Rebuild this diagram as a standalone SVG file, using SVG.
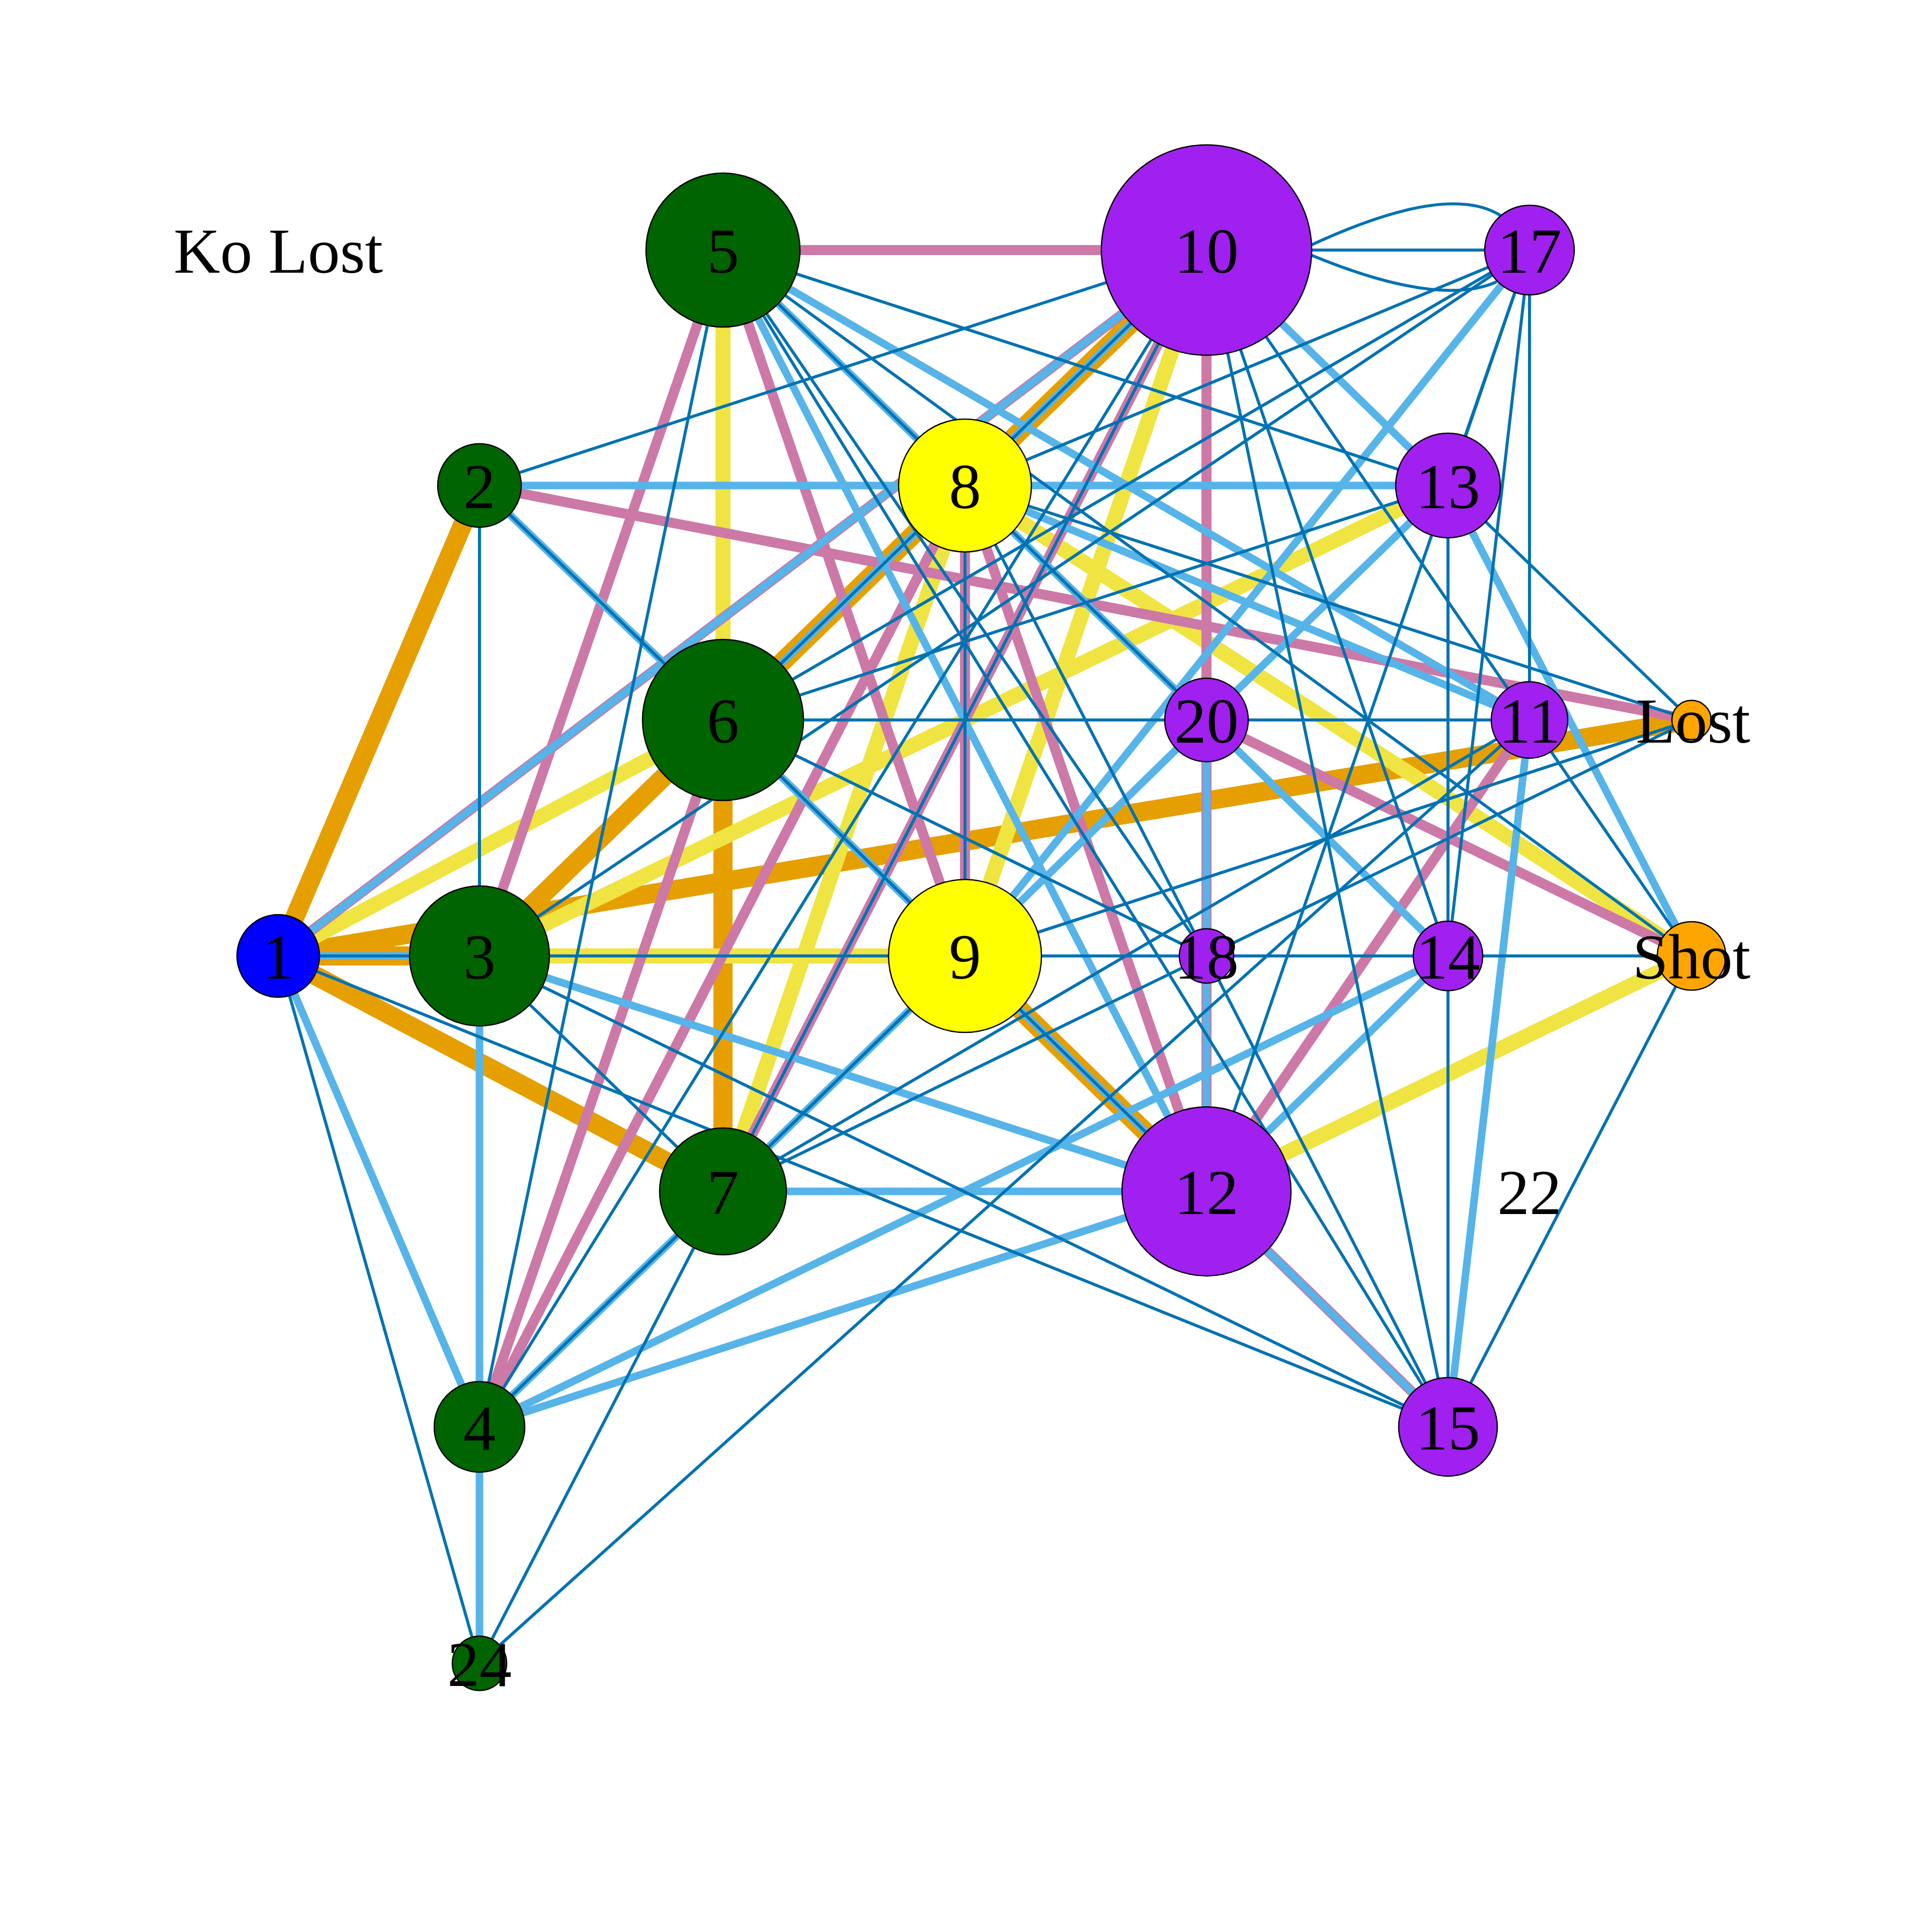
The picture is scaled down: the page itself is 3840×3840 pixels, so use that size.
<svg xmlns="http://www.w3.org/2000/svg" width="3840" height="3840" viewBox="0 0 3840 3840">
<defs>
<style>
.e line,.e path{fill:none;stroke-linecap:butt}
.d{stroke:#0072B2;stroke-width:6}
.l{stroke:#56B4E9;stroke-width:15}
.p{stroke:#CC79A7;stroke-width:20}
.y{stroke:#F0E442;stroke-width:30}
.o{stroke:#E69F00;stroke-width:38}
.nd circle{stroke:#000;stroke-width:2.5}
.g{fill:#006400}.pu{fill:#A020F0}.ye{fill:#FFFF00}.or{fill:#FFA500}.bl{fill:#0000FF}
text{font-family:"Liberation Serif","Times New Roman",serif;font-size:128px;fill:#000;text-anchor:middle}
</style>
</defs>
<rect width="3840" height="3840" fill="#fff"/>
<g id="edges" class="e">
<g id="orange">
<line class="o" x1="553" y1="1900" x2="953" y2="965"/>
<line class="o" x1="553" y1="1900" x2="953" y2="1900"/>
<line class="o" x1="553" y1="1900" x2="3362" y2="1431"/>
<line class="o" x1="553" y1="1900" x2="1437" y2="2368"/>
<line class="o" x1="953" y1="1900" x2="2398" y2="497"/>
<line class="o" x1="1437" y1="1431" x2="1437" y2="2368"/>
<line class="o" x1="1918" y1="1900" x2="2398" y2="2368"/>
</g>
<g id="yellow">
<line class="y" x1="553" y1="1900" x2="1437" y2="1431"/>
<line class="y" x1="1437" y1="497" x2="1437" y2="1431"/>
<line class="y" x1="953" y1="1900" x2="1918" y2="1900"/>
<line class="y" x1="953" y1="1900" x2="2878" y2="965"/>
<line class="y" x1="1437" y1="2368" x2="1918" y2="965"/>
<line class="y" x1="1918" y1="1900" x2="2398" y2="497"/>
<line class="y" x1="1918" y1="965" x2="3362" y2="1900"/>
<line class="y" x1="2398" y1="2368" x2="3362" y2="1900"/>
</g>
<g id="pink">
<line class="p" x1="1437" y1="497" x2="2398" y2="497"/>
<line class="p" x1="953" y1="1900" x2="1437" y2="497"/>
<line class="p" x1="1437" y1="497" x2="1918" y2="1900"/>
<line class="p" x1="1918" y1="965" x2="2398" y2="2368"/>
<line class="p" x1="553" y1="1900" x2="2398" y2="497"/>
<line class="p" x1="953" y1="965" x2="3362" y2="1431"/>
<line class="p" x1="953" y1="2836" x2="1437" y2="1431"/>
<line class="p" x1="953" y1="2836" x2="1918" y2="965"/>
<line class="p" x1="1437" y1="2368" x2="2398" y2="497"/>
<line class="p" x1="2398" y1="497" x2="2398" y2="2368"/>
<line class="p" x1="1918" y1="965" x2="1918" y2="1900"/>
<line class="p" x1="2398" y1="1431" x2="3362" y2="1900"/>
<line class="p" x1="2398" y1="2368" x2="3040" y2="1431"/>
<line class="p" x1="2398" y1="2368" x2="2878" y2="2836"/>
</g>
<g id="lightblue">
<line class="l" x1="553" y1="1900" x2="2398" y2="497"/>
<line class="l" x1="553" y1="1900" x2="953" y2="2836"/>
<line class="l" x1="553" y1="1900" x2="953" y2="1900"/>
<line class="l" x1="953" y1="965" x2="1918" y2="965"/>
<line class="l" x1="1918" y1="965" x2="2878" y2="965"/>
<line class="l" x1="953" y1="965" x2="1437" y2="1431"/>
<line class="l" x1="953" y1="1900" x2="953" y2="2836"/>
<line class="l" x1="953" y1="2836" x2="953" y2="3306"/>
<line class="l" x1="953" y1="1900" x2="2398" y2="2368"/>
<line class="l" x1="953" y1="2836" x2="1437" y2="2368"/>
<line class="l" x1="1437" y1="2368" x2="1918" y2="1900"/>
<line class="l" x1="1918" y1="1900" x2="2398" y2="1431"/>
<line class="l" x1="2398" y1="1431" x2="2878" y2="965"/>
<line class="l" x1="1437" y1="1431" x2="1918" y2="1900"/>
<line class="l" x1="1437" y1="1431" x2="2398" y2="497"/>
<line class="l" x1="1437" y1="497" x2="1918" y2="965"/>
<line class="l" x1="1918" y1="965" x2="2398" y2="1431"/>
<line class="l" x1="2398" y1="1431" x2="2878" y2="1900"/>
<line class="l" x1="1437" y1="497" x2="2398" y2="2368"/>
<line class="l" x1="1437" y1="497" x2="3040" y2="1431"/>
<line class="l" x1="1918" y1="965" x2="3040" y2="1431"/>
<line class="l" x1="1918" y1="1900" x2="3040" y2="497"/>
<line class="l" x1="2398" y1="497" x2="2878" y2="965"/>
<line class="l" x1="2878" y1="965" x2="3362" y2="1900"/>
<line class="l" x1="2398" y1="2368" x2="2878" y2="1900"/>
<line class="l" x1="953" y1="2836" x2="2878" y2="1900"/>
<line class="l" x1="953" y1="2836" x2="2398" y2="2368"/>
<line class="l" x1="1437" y1="2368" x2="2398" y2="2368"/>
<line class="l" x1="3040" y1="1431" x2="2878" y2="2836"/>
<line class="l" x1="2398" y1="2368" x2="2878" y2="2836"/>
<line class="l" x1="2398" y1="1431" x2="2398" y2="2368"/>
<line class="l" x1="1918" y1="1900" x2="2398" y2="2368"/>
</g>
<g id="darkblue">
<line class="d" x1="553" y1="1900" x2="953" y2="1900"/>
<line class="d" x1="553" y1="1900" x2="2878" y2="2836"/>
<line class="d" x1="553" y1="1900" x2="953" y2="3306"/>
<line class="d" x1="953" y1="965" x2="953" y2="1900"/>
<line class="d" x1="953" y1="965" x2="2398" y2="497"/>
<line class="d" x1="953" y1="965" x2="1437" y2="1431"/>
<line class="d" x1="953" y1="1900" x2="1918" y2="1900"/>
<line class="d" x1="953" y1="1900" x2="3040" y2="497"/>
<line class="d" x1="953" y1="1900" x2="1437" y2="2368"/>
<line class="d" x1="953" y1="1900" x2="2878" y2="2836"/>
<line class="d" x1="953" y1="2836" x2="1437" y2="497"/>
<line class="d" x1="953" y1="2836" x2="1437" y2="2368"/>
<line class="d" x1="953" y1="2836" x2="2398" y2="497"/>
<line class="d" x1="953" y1="3306" x2="1437" y2="2368"/>
<line class="d" x1="953" y1="3306" x2="3040" y2="1431"/>
<line class="d" x1="1437" y1="497" x2="2878" y2="965"/>
<line class="d" x1="1437" y1="497" x2="2878" y2="2836"/>
<line class="d" x1="1437" y1="497" x2="2398" y2="1900"/>
<line class="d" x1="1437" y1="497" x2="3362" y2="1900"/>
<line class="d" x1="1437" y1="497" x2="1918" y2="965"/>
<line class="d" x1="1918" y1="965" x2="2398" y2="1431"/>
<line class="d" x1="1437" y1="1431" x2="1918" y2="1900"/>
<line class="d" x1="1437" y1="1431" x2="2398" y2="497"/>
<line class="d" x1="1437" y1="1431" x2="2398" y2="1431"/>
<line class="d" x1="2398" y1="1431" x2="3040" y2="1431"/>
<line class="d" x1="1437" y1="1431" x2="2398" y2="1900"/>
<line class="d" x1="1437" y1="1431" x2="2878" y2="965"/>
<line class="d" x1="1437" y1="1431" x2="3040" y2="497"/>
<line class="d" x1="1437" y1="2368" x2="1918" y2="1900"/>
<line class="d" x1="1437" y1="2368" x2="2398" y2="497"/>
<line class="d" x1="1437" y1="2368" x2="3040" y2="1431"/>
<line class="d" x1="1437" y1="2368" x2="3362" y2="1431"/>
<line class="d" x1="1918" y1="965" x2="1918" y2="1900"/>
<line class="d" x1="1918" y1="965" x2="3040" y2="497"/>
<line class="d" x1="1918" y1="965" x2="3362" y2="1431"/>
<line class="d" x1="1918" y1="965" x2="2878" y2="2836"/>
<line class="d" x1="1918" y1="1900" x2="2398" y2="1900"/>
<line class="d" x1="2398" y1="1900" x2="2878" y2="1900"/>
<line class="d" x1="2878" y1="1900" x2="3362" y2="1900"/>
<line class="d" x1="1918" y1="1900" x2="3362" y2="1431"/>
<line class="d" x1="2398" y1="497" x2="3040" y2="497"/>
<path class="d" d="M2606,487 Q2880,360 2985,430"/>
<path class="d" d="M2606,507 Q2860,612 2975,560"/>
<line class="d" x1="2398" y1="497" x2="3362" y2="1900"/>
<line class="d" x1="2398" y1="497" x2="2878" y2="1900"/>
<line class="d" x1="2398" y1="497" x2="2878" y2="2836"/>
<line class="d" x1="1918" y1="1900" x2="2398" y2="2368"/>
<line class="d" x1="2398" y1="2368" x2="3040" y2="497"/>
<line class="d" x1="2878" y1="965" x2="3040" y2="497"/>
<line class="d" x1="2878" y1="965" x2="2878" y2="1900"/>
<line class="d" x1="2878" y1="1900" x2="2878" y2="2836"/>
<line class="d" x1="2878" y1="965" x2="3362" y2="1431"/>
<line class="d" x1="3040" y1="497" x2="2878" y2="1900"/>
<line class="d" x1="3040" y1="497" x2="3040" y2="1431"/>
<line class="d" x1="2878" y1="2836" x2="3362" y2="1900"/>
</g>
</g>
<g id="nodes" class="nd">
<g id="n5"><circle class="g" cx="1437" cy="497" r="153"/><text x="1437" y="542">5</text></g>
<g id="n10"><circle class="pu" cx="2398" cy="497" r="209"/><text x="2398" y="542">10</text></g>
<g id="n17"><circle class="pu" cx="3040" cy="497" r="89"/><text x="3040" y="542">17</text></g>
<g id="n2"><circle class="g" cx="953" cy="965" r="83"/><text x="953" y="1010">2</text></g>
<g id="n8"><circle class="ye" cx="1918" cy="965" r="132"/><text x="1918" y="1010">8</text></g>
<g id="n13"><circle class="pu" cx="2878" cy="965" r="104"/><text x="2878" y="1010">13</text></g>
<g id="n6"><circle class="g" cx="1437" cy="1431" r="160"/><text x="1437" y="1476">6</text></g>
<g id="n20"><circle class="pu" cx="2398" cy="1431" r="83"/><text x="2398" y="1476">20</text></g>
<g id="n11"><circle class="pu" cx="3040" cy="1431" r="76"/><text x="3040" y="1476">11</text></g>
<g id="nLost"><circle class="or" cx="3362" cy="1431" r="39"/><text x="3365" y="1476">Lost</text></g>
<g id="n1"><circle class="bl" cx="553" cy="1900" r="82"/><text x="553" y="1945">1</text></g>
<g id="n3"><circle class="g" cx="953" cy="1900" r="139"/><text x="953" y="1945">3</text></g>
<g id="n9"><circle class="ye" cx="1918" cy="1900" r="152"/><text x="1918" y="1945">9</text></g>
<g id="n18"><circle class="pu" cx="2398" cy="1900" r="54"/><text x="2398" y="1945">18</text></g>
<g id="n14"><circle class="pu" cx="2878" cy="1900" r="69"/><text x="2878" y="1945">14</text></g>
<g id="nShot"><circle class="or" cx="3362" cy="1900" r="68"/><text x="3362" y="1945">Shot</text></g>
<g id="n7"><circle class="g" cx="1437" cy="2368" r="126"/><text x="1437" y="2413">7</text></g>
<g id="n12"><circle class="pu" cx="2398" cy="2368" r="168"/><text x="2398" y="2413">12</text></g>
<g id="n22"><text x="3040" y="2413">22</text></g>
<g id="n4"><circle class="g" cx="953" cy="2836" r="90"/><text x="953" y="2881">4</text></g>
<g id="n15"><circle class="pu" cx="2878" cy="2836" r="98"/><text x="2878" y="2881">15</text></g>
<g id="n24"><circle class="g" cx="953" cy="3306" r="54"/><text x="953" y="3351">24</text></g>
<g id="nKoLost"><text x="553" y="542">Ko Lost</text></g>
</g>
</svg>
